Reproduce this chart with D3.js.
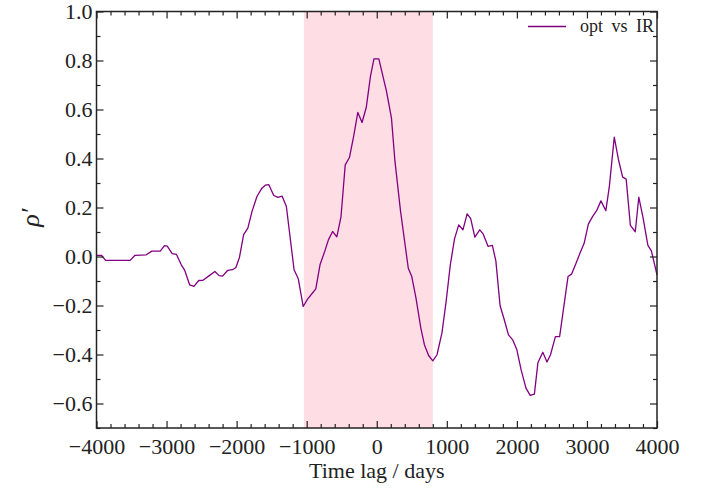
<!DOCTYPE html>
<html>
<head>
<meta charset="utf-8">
<script src="https://cdn.jsdelivr.net/npm/d3@7"></script>
<style>
  body { margin: 0; background: #fff; }
  svg, svg text { font-family: "Liberation Serif", "DejaVu Serif", serif; }
</style>
</head>
<body>
<div id="chart"></div>
<script>
// Cross-correlation of optical vs IR light curves
var lags = [-4000, -3930, -3870, -3520, -3450, -3290, -3210, -3090, -3030, -2990,
  -2920, -2860, -2790, -2740, -2670, -2610, -2540, -2480, -2390, -2310,
  -2250, -2200, -2130, -2060, -2010, -1960, -1900, -1840, -1780, -1710,
  -1640, -1590, -1540, -1470, -1410, -1350, -1290, -1180, -1120, -1050,
  -990, -920, -870, -810, -740, -690, -630, -570, -510, -450,
  -390, -330, -270, -210, -150, -90, -40, 30, 140, 210,
  260, 340, 450, 500, 560, 630, 680, 740, 800, 860,
  930, 990, 1050, 1110, 1170, 1230, 1290, 1340, 1400, 1470,
  1520, 1590, 1650, 1700, 1760, 1820, 1880, 1940, 2000, 2060,
  2130, 2190, 2250, 2300, 2370, 2430, 2480, 2550, 2610, 2730,
  2780, 2840, 2900, 2960, 3020, 3080, 3140, 3200, 3270, 3320,
  3390, 3450, 3510, 3560, 3620, 3690, 3740, 3800, 3870, 3920, 4000];
var rho = [0.005, 0.005, -0.016, -0.016, 0.005, 0.007, 0.022, 0.022, 0.044, 0.042,
  0.012, 0.009, -0.034, -0.057, -0.116, -0.122, -0.098, -0.097, -0.078, -0.061,
  -0.078, -0.080, -0.057, -0.054, -0.045, -0.004, 0.089, 0.116, 0.184, 0.245,
  0.279, 0.291, 0.293, 0.249, 0.241, 0.246, 0.204, -0.054, -0.091, -0.204,
  -0.175, -0.150, -0.132, -0.034, 0.023, 0.068, 0.102, 0.080, 0.163, 0.374,
  0.404, 0.490, 0.588, 0.547, 0.608, 0.735, 0.807, 0.807, 0.673, 0.565,
  0.388, 0.184, -0.048, -0.082, -0.170, -0.293, -0.360, -0.404, -0.426, -0.401,
  -0.313, -0.184, -0.034, 0.072, 0.129, 0.109, 0.174, 0.156, 0.079, 0.109,
  0.091, 0.041, 0.045, -0.018, -0.200, -0.258, -0.320, -0.340, -0.381, -0.462,
  -0.537, -0.567, -0.562, -0.434, -0.391, -0.431, -0.401, -0.327, -0.327, -0.082,
  -0.072, -0.031, 0.013, 0.054, 0.132, 0.163, 0.188, 0.227, 0.187, 0.286,
  0.487, 0.395, 0.324, 0.316, 0.127, 0.101, 0.242, 0.160, 0.045, 0.023, -0.075];
var seriesName = "opt vs IR";
var shadeRange = [-1040, 800];
var xTicks = [-4000, -3000, -2000, -1000, 0, 1000, 2000, 3000, 4000];
var xMinor = d3.range(-4000, 4001, 200);
var yTicks = [-0.6, -0.4, -0.2, 0.0, 0.2, 0.4, 0.6, 0.8, 1.0];
var yMinor = [-0.7, -0.5, -0.3, -0.1, 0.1, 0.3, 0.5, 0.7, 0.9];

var totalW = 714, totalH = 488;
var margin = {top: 11.5, right: 57, bottom: 60, left: 96.5},
    width = totalW - margin.left - margin.right,
    height = totalH - margin.top - margin.bottom;

var xScale = d3.scaleLinear().domain([-4000, 4000]).range([0, width]);
var yScale = d3.scaleLinear().domain([-0.7, 1.0]).range([height, 0]);

var svg = d3.select("#chart").append("svg")
    .attr("width", totalW)
    .attr("height", totalH)
  .append("g")
    .attr("transform", "translate(" + margin.left + "," + margin.top + ")");

// shaded lag window
svg.append("rect")
  .attr("x", xScale(shadeRange[0]))
  .attr("y", 0)
  .attr("width", xScale(shadeRange[1]) - xScale(shadeRange[0]))
  .attr("height", height)
  .attr("fill", "#ffdde4");

// correlation curve
var line = d3.line()
  .x(function (d, i) { return xScale(lags[i]); })
  .y(function (d) { return yScale(d); });

svg.append("path")
  .datum(rho)
  .attr("fill", "none")
  .attr("stroke", "#800080")
  .attr("stroke-width", 1.3)
  .attr("stroke-linejoin", "round")
  .attr("d", line);

// axes: major + minor ticks on all four sides, pointing inward
var fmtX = d3.format("d"), fmtY = d3.format(".1f");

function addAxis(axisFn, scale, vals, size, fmt, transform) {
  var ax = axisFn(scale).tickValues(vals).tickSizeInner(-size).tickSizeOuter(0)
      .tickPadding(size + 3)
      .tickFormat(fmt || "");
  var g = svg.append("g").attr("transform", transform || null).call(ax);
  g.attr("font-family", null).attr("font-size", null);
  g.select(".domain").remove();
  g.selectAll(".tick line").attr("stroke", "#222").attr("stroke-width", 1.2);
  g.selectAll("text")
    .attr("fill", "#222")
    .style("font-family", "'Liberation Serif', serif")
    .style("font-size", "22px");
  return g;
}

var minorX = xMinor.filter(function (v) { return v % 1000 !== 0; });
addAxis(d3.axisBottom, xScale, xTicks, 7, fmtX, "translate(0," + height + ")");
addAxis(d3.axisBottom, xScale, minorX, 4, null, "translate(0," + height + ")");
addAxis(d3.axisTop, xScale, xTicks, 7, null);
addAxis(d3.axisTop, xScale, minorX, 4, null);
var yg = addAxis(d3.axisLeft, yScale, yTicks, 7, fmtY);
yg.selectAll("text").attr("x", -4);
addAxis(d3.axisLeft, yScale, yMinor, 4, null);
addAxis(d3.axisRight, yScale, yTicks, 7, null, "translate(" + width + ",0)");
addAxis(d3.axisRight, yScale, yMinor, 4, null, "translate(" + width + ",0)");

// frame
svg.append("rect")
  .attr("width", width)
  .attr("height", height)
  .attr("fill", "none")
  .attr("stroke", "#222")
  .attr("stroke-width", 1.5);

// axis titles
svg.append("text")
  .attr("x", width / 2)
  .attr("y", height + 50)
  .attr("text-anchor", "middle")
  .attr("fill", "#222")
  .style("font-size", "22px")
  .text("Time lag / days");

svg.append("text")
  .attr("transform", "translate(" + (-58) + "," + (height / 2 - 2) + ") rotate(-90)")
  .attr("text-anchor", "middle")
  .attr("fill", "#222")
  .style("font-size", "26px")
  .style("font-style", "italic")
  .text("ρ′");

// legend
var leg = svg.append("g").attr("transform", "translate(" + (width - 129) + ",15)");
leg.append("line")
  .attr("x1", 0).attr("x2", 38)
  .attr("y1", 0).attr("y2", 0)
  .attr("stroke", "#800080")
  .attr("stroke-width", 1.3);
leg.append("text")
  .attr("x", 52)
  .attr("y", 5)
  .attr("fill", "#222")
  .style("font-size", "18px")
  .style("word-spacing", "4px")
  .text(seriesName);
</script>
</body>
</html>
